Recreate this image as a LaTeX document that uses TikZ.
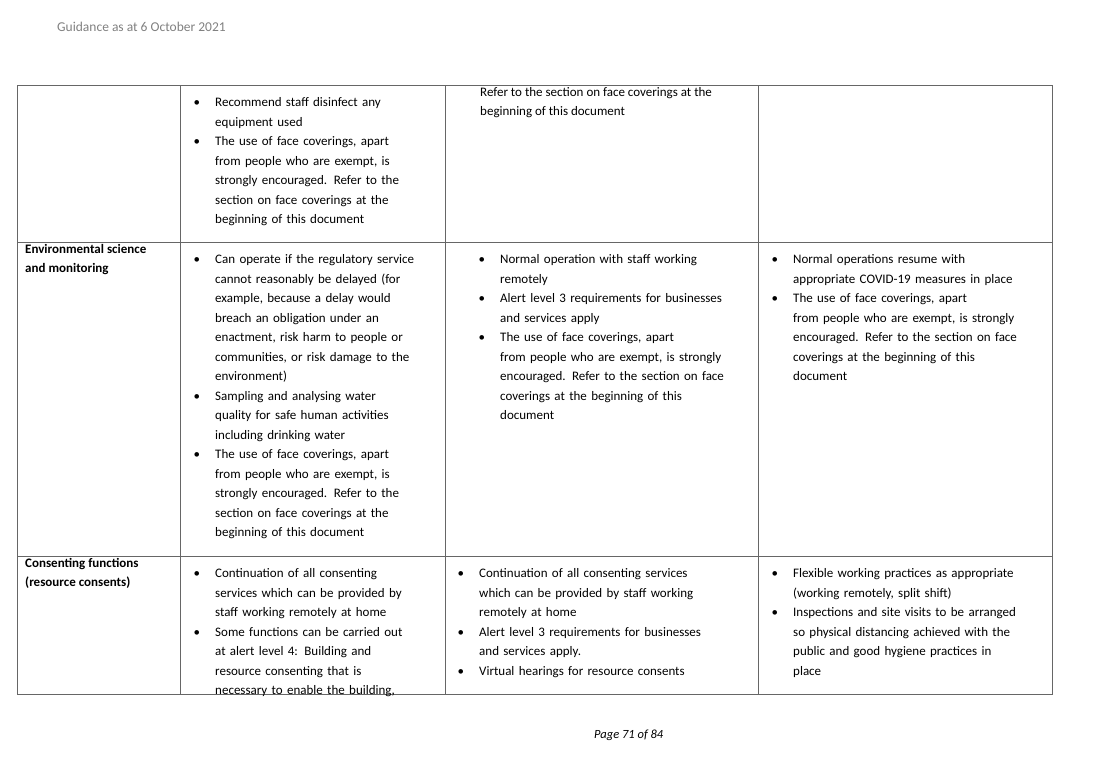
\documentclass[tikz,border=0pt]{standalone}
\usepackage{fontspec}
\setmainfont{Carlito}
\usepackage{enumitem}
\tikzset{
  grid/.style={draw=black!60, line width=0.7pt},
  cell/.style={anchor=north west, inner sep=0pt, align=left, font=\fontsize{13}{19.5}\selectfont},
}
\newcommand{\bl}[1]{\begin{itemize}[leftmargin=21pt,labelsep=15pt,itemsep=0pt,topsep=0pt,parsep=0pt,partopsep=0pt]#1\end{itemize}}
\begin{document}
\begin{tikzpicture}[x=1pt,y=-1pt]
\useasboundingbox (0,0) rectangle (1116,782);
\node[cell, text=black!50, font=\fontsize{13.5}{16}\selectfont] (hdr) at (57,22) {Guidance as at 6 October 2021};
\node[cell, font=\fontsize{12.5}{16}\selectfont\itshape] (ftr) at (594,730) {Page 71 of 84};
% grid
\draw[grid] (17,85) rectangle (1052,694);
\foreach \x in {180,445,758} \draw[grid] (\x,85) -- (\x,694);
\foreach \y in {242,556} \draw[grid] (17,\y) -- (1052,\y);
% row 1
\node[cell, text width=250pt] (r1c2) at (194,87) {\bl{
\item Recommend staff disinfect any\\ equipment used
\item The use of face coverings, apart\\ from people who are exempt, is\\ strongly encouraged. Refer to the\\ section on face coverings at the\\ beginning of this document}};
\node[cell] (r1c3) at (480,87) {Refer to the section on face coverings at the\\ beginning of this document};
% row 2
\node[cell, font=\fontsize{13}{19.5}\selectfont\bfseries] (r2c1) at (25,244) {Environmental science\\ and monitoring};
\node[cell, text width=250pt] (r2c2) at (194,244) {\bl{
\item Can operate if the regulatory service\\ cannot reasonably be delayed (for\\ example, because a delay would\\ breach an obligation under an\\ enactment, risk harm to people or\\ communities, or risk damage to the\\ environment)
\item Sampling and analysing water\\ quality for safe human activities\\ including drinking water
\item The use of face coverings, apart\\ from people who are exempt, is\\ strongly encouraged. Refer to the\\ section on face coverings at the\\ beginning of this document}};
\node[cell, text width=270pt] (r2c3) at (479,244) {\bl{
\item Normal operation with staff working\\ remotely
\item Alert level 3 requirements for businesses\\ and services apply
\item The use of face coverings, apart\\ from people who are exempt, is strongly\\ encouraged. Refer to the section on face\\ coverings at the beginning of this\\ document}};
\node[cell, text width=270pt] (r2c4) at (772,244) {\bl{
\item Normal operations resume with\\ appropriate COVID-19 measures in place
\item The use of face coverings, apart\\ from people who are exempt, is strongly\\ encouraged. Refer to the section on face\\ coverings at the beginning of this\\ document}};
% row 3
\node[cell, font=\fontsize{13}{19.5}\selectfont\bfseries] (r3c1) at (25,558) {Consenting functions\\ (resource consents)};
\node[cell, text width=250pt] (r3c2) at (194,558) {\bl{
\item Continuation of all consenting\\ services which can be provided by\\ staff working remotely at home
\item Some functions can be carried out\\ at alert level 4: Building and\\ resource consenting that is\\ necessary to enable the building,}};
\node[cell, text width=290pt] (r3c3) at (458,558) {\bl{
\item Continuation of all consenting services\\ which can be provided by staff working\\ remotely at home
\item Alert level 3 requirements for businesses\\ and services apply.
\item Virtual hearings for resource consents}};
\node[cell, text width=270pt] (r3c4) at (772,558) {\bl{
\item Flexible working practices as appropriate\\ (working remotely, split shift)
\item Inspections and site visits to be arranged\\ so physical distancing achieved with the\\ public and good hygiene practices in\\ place}};
\end{tikzpicture}
\end{document}
